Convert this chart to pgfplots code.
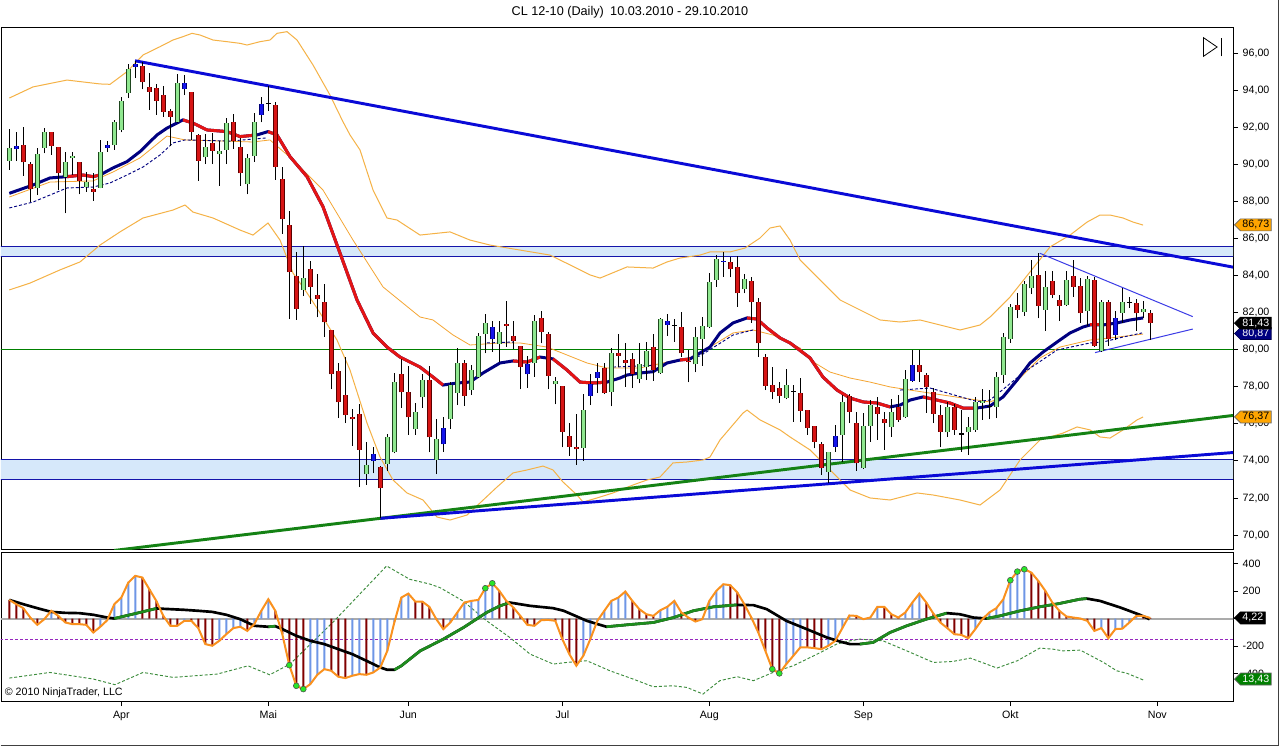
\documentclass[border=0pt]{standalone}
\usepackage{fontspec}
\setmainfont{Liberation Sans}
\usepackage{pgfplots}
\pgfplotsset{compat=1.18}
\usepackage{pgfplotstable}
\usetikzlibrary{shapes.symbols}

\definecolor{gfill}{RGB}{144,232,144}
\definecolor{gdark}{RGB}{30,70,30}
\definecolor{rfill}{RGB}{215,20,20}
\definecolor{rdark}{RGB}{90,0,0}
\definecolor{bfill}{RGB}{20,20,235}
\definecolor{bdark}{RGB}{0,0,120}
\definecolor{bandc}{RGB}{245,178,70}
\definecolor{midc}{RGB}{245,165,50}
\definecolor{navyc}{RGB}{0,0,128}
\definecolor{redma}{RGB}{228,20,20}
\definecolor{zonef}{RGB}{214,232,250}
\definecolor{zoneb}{RGB}{20,20,170}
\definecolor{trendb}{RGB}{10,10,215}
\definecolor{trendg}{RGB}{20,130,20}
\definecolor{hgreen}{RGB}{0,128,0}
\definecolor{tri}{RGB}{60,60,230}
\definecolor{tagor}{RGB}{255,165,0}
\definecolor{histb}{RGB}{110,150,230}
\definecolor{histr}{RGB}{128,0,0}
\definecolor{oscor}{RGB}{250,145,30}
\definecolor{sigg}{RGB}{30,140,30}
\definecolor{dotg}{RGB}{60,140,60}
\definecolor{purp}{RGB}{150,40,190}
\definecolor{dotfill}{RGB}{40,230,40}

% ---------- candles: index, open, high, low, close ----------
\pgfplotstableread{
i o h l c
0 90.19 91.90 89.69 90.89
4 88.70 90.89 88.34 90.54
5 90.89 91.94 90.59 91.76
8 89.33 90.68 87.35 90.10
9 90.32 90.68 89.42 90.44
11 88.76 89.60 88.52 89.03
13 88.73 91.31 88.70 90.68
15 91.04 92.39 90.77 92.26
16 91.85 93.64 91.72 93.41
17 93.83 95.39 93.56 95.14
24 92.29 94.87 92.25 94.37
28 90.37 91.61 90.01 90.93
30 90.54 91.25 88.84 90.73
31 90.77 92.51 90.00 92.21
34 88.92 90.54 88.38 90.32
35 90.44 92.75 90.14 92.26
42 83.22 85.59 82.89 83.85
51 73.28 75.00 72.70 73.78
54 73.82 75.45 73.47 75.27
55 74.46 78.72 74.41 78.27
58 75.70 77.14 75.40 76.64
59 77.43 78.69 76.87 78.36
61 74.05 76.24 73.29 75.16
63 76.24 78.24 75.72 78.09
64 77.65 80.07 77.01 79.26
66 77.82 79.17 77.55 78.90
67 78.51 80.88 78.45 80.74
68 80.84 81.92 79.80 81.42
70 80.30 81.56 79.32 80.94
75 79.26 81.87 78.54 81.54
78 78.13 78.54 77.05 78.31
82 74.71 77.59 74.01 76.74
86 77.73 80.07 76.94 79.80
90 78.40 80.37 78.18 79.21
91 79.08 80.43 78.36 79.94
93 78.72 81.72 78.69 81.65
98 79.21 81.21 78.78 80.67
99 80.57 81.78 79.13 81.28
100 81.24 84.12 81.15 83.66
101 83.76 85.10 83.40 84.87
105 83.25 84.08 83.04 83.79
111 77.38 78.96 77.32 78.09
117 73.42 74.46 72.79 74.46
119 75.40 77.55 73.96 77.16
122 73.63 76.57 73.55 75.88
123 75.88 77.28 75.03 77.01
126 75.84 77.32 75.30 76.65
128 76.35 78.90 76.30 78.40
134 75.54 77.19 75.30 76.89
137 75.54 76.35 74.32 75.84
138 75.67 77.43 75.57 77.19
139 77.14 77.86 76.21 77.23
141 76.92 78.81 76.30 78.54
142 78.63 80.88 78.22 80.67
143 80.56 82.46 80.37 82.28
145 82.05 83.70 81.83 83.52
146 83.31 84.84 82.99 83.97
148 82.14 84.26 81.01 83.36
151 82.41 84.26 82.35 83.76
154 82.08 83.99 81.28 83.81
156 79.94 82.68 79.89 82.55
159 81.99 83.31 81.45 82.55
162 82.01 82.64 81.69 82.19
}\tbUp

\pgfplotstableread{
i o h l c
2 91.04 92.02 89.38 90.10
3 90.00 90.14 87.98 88.65
6 91.72 91.72 90.50 91.00
7 90.95 90.95 88.61 89.51
10 90.10 90.14 88.38 89.11
12 88.65 89.51 88.03 88.52
19 95.30 95.53 94.04 94.42
20 94.15 94.91 92.93 93.91
21 94.13 94.31 92.66 93.43
22 93.72 94.24 92.56 92.83
23 92.87 92.98 91.00 92.56
26 93.88 93.91 91.31 91.76
27 91.58 91.61 89.11 90.19
29 91.13 91.70 90.01 90.73
32 92.29 92.69 90.82 91.27
33 90.95 91.43 88.83 89.51
38 93.20 93.34 89.15 89.84
39 89.20 89.84 86.24 87.03
40 86.72 87.48 81.64 84.17
41 83.99 85.25 81.60 82.18
43 84.35 84.78 82.45 83.40
44 82.93 84.06 81.74 82.72
45 82.55 83.52 80.70 81.47
46 81.06 81.06 77.86 78.67
47 78.85 79.30 76.30 77.16
48 77.55 79.62 76.03 76.47
49 76.35 76.80 74.82 76.24
50 76.53 77.07 72.58 74.59
53 73.69 73.74 70.90 72.52
56 78.67 79.50 76.87 77.70
57 77.70 79.12 75.40 76.35
60 78.36 79.12 74.46 75.27
65 79.26 79.44 76.98 77.52
71 81.38 82.62 80.16 81.29
72 80.75 81.56 80.03 80.48
73 80.20 80.20 77.86 79.05
76 81.69 82.08 80.34 80.94
77 80.84 80.97 77.86 78.59
79 78.04 78.04 74.73 75.57
80 75.34 76.03 74.28 74.77
81 74.75 76.53 73.78 74.62
85 78.99 79.30 77.60 77.65
87 79.80 80.83 79.05 79.66
88 79.44 80.37 78.00 79.30
89 79.50 79.80 77.92 78.67
92 80.16 80.84 78.33 78.90
96 81.24 82.01 79.62 79.80
97 79.39 79.98 78.24 79.32
103 84.74 85.01 83.90 84.33
104 84.44 85.05 82.32 83.04
106 83.72 83.93 81.45 82.55
107 82.55 82.77 79.59 80.34
108 79.62 79.77 77.82 78.06
109 78.09 79.05 77.32 77.70
110 77.92 78.27 77.14 77.52
113 77.65 78.45 76.11 76.71
114 76.74 76.74 75.40 75.76
115 75.88 75.88 74.68 75.03
116 74.91 75.03 73.24 73.60
120 77.50 77.59 76.03 76.65
121 76.03 76.65 73.47 73.87
124 76.89 77.46 75.13 76.53
125 76.24 76.65 74.59 76.03
127 76.92 77.55 76.11 76.21
130 79.17 79.98 78.27 78.78
131 78.63 78.72 76.60 77.97
132 77.73 77.92 76.03 76.53
133 76.47 77.01 74.73 75.57
135 76.89 77.07 75.40 75.67
144 82.39 83.07 81.69 82.14
147 84.01 85.20 81.69 82.37
149 83.69 84.26 82.77 82.95
150 82.68 82.96 81.56 82.37
152 83.97 84.84 82.86 83.40
153 83.45 83.85 81.45 81.96
155 83.76 83.93 80.16 80.20
157 82.55 82.68 80.20 80.56
161 82.50 82.72 81.02 81.96
163 81.96 82.14 80.52 81.43
}\tbDn

\pgfplotstableread{
i o h l c
1 90.81 91.74 90.17 90.98
14 90.89 91.27 90.68 91.04
18 95.26 95.58 94.64 95.39
25 94.04 94.81 93.73 94.40
36 92.66 93.61 92.26 93.25
52 73.99 74.77 73.33 74.35
62 74.89 76.35 74.50 75.76
69 80.56 81.56 79.89 81.21
74 78.67 79.66 77.95 79.23
83 77.52 78.69 77.01 78.15
84 78.49 79.30 77.68 78.81
94 81.33 81.91 80.74 81.56
102 84.74 85.28 83.93 84.80
118 74.77 75.94 74.50 75.34
129 78.33 79.98 78.27 79.17
158 80.79 82.08 80.52 81.72
}\tbBl

\pgfplotstableread{
i o h l c
37 93.27 94.22 92.89 93.27
95 81.30 81.65 80.43 81.30
112 77.75 78.09 76.11 77.75
136 75.45 76.74 74.50 75.45
140 76.92 77.82 76.24 76.92
160 82.53 82.86 82.25 82.53
}\tbDj

% ---------- moving average (thick) ----------
\pgfplotstableread{
i p
0 88.43
3.39 88.88
5.81 89.26
8.24 89.33
10.53 89.42
11.96 89.33
12.96 89.42
14.81 89.80
16.81 90.14
18.67 90.68
21.1 91.58
22.53 91.95
24.81 92.39
26.24 92.22
28.24 91.85
31.1 91.76
32.96 91.49
35.39 91.58
36.96 91.76
38.24 91.58
40.1 90.41
42.53 89.33
44.81 87.71
47.24 85.21
49.67 82.68
51.96 80.90
53.96 80.14
55.81 79.60
58.67 79.06
60.53 78.52
61.96 78.09
63.96 78.20
65.81 78.25
67.67 78.74
70.1 79.28
71.96 79.39
73.96 79.33
75.81 79.60
77.67 79.50
79.67 78.90
81.53 78.25
83.39 78.20
85.39 78.25
87.24 78.47
88.24 78.63
90.1 78.74
91.96 78.81
93.96 79.28
95.81 79.44
97.24 79.50
98.67 79.82
100.1 80.14
101.53 80.90
103.39 81.44
105.39 81.71
106.81 81.65
108.24 81.17
110.1 80.63
111.53 80.36
114.39 79.55
116.24 78.52
118.24 77.82
120.1 77.39
121.96 77.18
123.96 77.12
125.81 76.91
127.24 77.01
128.67 77.28
130.53 77.45
132.53 77.28
134.39 77.12
136.24 76.85
138.24 76.85
140.1 76.96
141.96 77.45
143.96 78.36
145.81 79.28
147.67 79.87
149.67 80.41
151.53 80.90
153.39 81.22
154.39 81.33
156.24 81.33
158.24 81.44
160.1 81.60
161.96 81.71
}\tbMA

% ---------- bands ----------
\pgfplotstableread{
i p
0 93.57
3.39 94.17
8.24 94.54
12.96 94.33
14.39 94.31
16.81 94.99
19.1 95.89
21.53 96.34
23.39 96.70
24.81 96.88
26.1 97.06
27.24 96.97
29.1 96.70
31.1 96.61
32.96 96.52
33.96 96.43
35.81 96.61
37.24 96.70
38.24 97.06
39.67 97.15
41.1 96.70
43.39 95.35
45.81 93.73
47.67 92.29
48.67 91.58
50.1 90.77
51.96 88.61
53.96 87.10
55.39 86.99
58.67 86.18
62.96 86.35
65.81 85.91
68.67 85.64
72.96 85.37
77.24 85.10
80.1 84.57
82.96 84.03
84.39 83.86
88.24 84.46
91.96 84.40
93.96 84.73
95.81 84.94
98.67 85.10
100.1 85.27
102.96 85.27
105.1 85.48
107.24 86.02
108.67 86.56
110.1 86.67
111.53 85.91
112.96 84.84
115.81 83.76
118.67 82.68
121.53 82.14
124.39 81.60
127.24 81.49
130.1 81.60
132.96 81.33
135.81 81.06
138.67 81.33
140.1 81.76
142.96 82.84
145.81 84.19
148.67 85.54
151.53 86.18
153.96 86.88
155.81 87.26
157.24 87.26
159.1 87.10
160.53 86.88
161.96 86.72
}\tbUB

\pgfplotstableread{
i p
0 83.22
2.96 83.59
7.24 84.30
10.1 84.73
12.96 85.64
15.81 86.35
19.1 87.10
23.39 87.53
25.1 87.80
26.24 87.42
29.1 87.10
32.96 86.45
34.81 86.18
36.96 86.83
38.67 85.91
40.53 84.13
42.53 83.06
44.39 81.98
46.81 80.52
48.67 78.90
51.1 76.04
52.96 74.21
54.81 72.97
56.81 72.27
59.1 71.89
61.1 70.97
62.96 70.81
65.39 71.08
67.24 71.73
69.67 72.59
71.96 73.35
73.96 73.51
76.24 73.72
77.67 73.51
79.1 72.86
81.1 72.16
81.96 71.78
83.96 72.00
86.24 72.27
89.1 72.70
91.1 72.97
92.96 73.13
94.81 73.89
96.81 73.94
99.1 74.05
100.1 74.21
101.53 75.13
104.81 76.58
105.39 76.74
107.24 76.21
110.1 75.67
111.53 75.29
114.39 74.59
117.67 73.35
120.1 72.43
122.96 72.00
125.81 71.89
129.67 72.27
131.96 72.16
135.81 71.89
138.67 71.62
141.53 72.43
144.39 74.05
147.24 75.13
150.53 75.50
152.53 75.83
154.39 75.67
155.81 75.29
157.24 75.23
159.1 75.67
161.1 76.21
161.96 76.37
}\tbLB

\pgfplotstableread{
i p
0 88.23
5.81 89.04
11.96 89.10
14.81 89.58
18.67 90.34
22.53 91.52
25.1 91.31
34.81 91.20
37.24 91.31
40.53 90.23
44.81 88.61
49.1 85.91
53.39 83.38
58.67 81.76
60.53 81.60
63.39 80.79
65.81 80.25
70.1 80.36
72.96 80.36
76.81 80.14
79.67 79.71
82.53 79.28
85.39 79.01
90.1 79.01
93.96 79.33
97.24 79.55
100.1 80.14
103.39 80.90
106.24 81.06
109.1 80.79
112.96 80.09
114.39 79.44
117.24 78.79
120.1 78.47
122.96 78.25
125.81 77.99
128.67 77.82
133.39 77.55
136.24 77.39
140.1 77.18
141.96 77.45
144.39 78.47
147.24 79.55
150.1 80.14
154.39 80.52
157.24 80.63
161.96 80.84
}\tbMid

% ---------- oscillator: index, value, rising value, falling value ----------
\pgfplotstableread{
i v b m
0 135 nan 135
1 104 nan 104
2 75 nan 75
3 7 nan 7
4 -46 nan -46
5 -5 -5 nan
6 56 56 nan
7 19 nan 19
8 -29 nan -29
9 -41 nan -41
10 -41 nan -41
11 -46 nan -46
12 -102 nan -102
13 -60 -60 nan
14 -12 -12 nan
15 104 104 nan
16 152 152 nan
17 261 261 nan
18 310 310 nan
19 298 nan 298
20 213 nan 213
21 128 nan 128
22 19 nan 19
23 -53 nan -53
24 -53 nan -53
25 -17 -17 nan
26 -17 nan -17
27 -70 nan -70
28 -186 nan -186
29 -198 nan -198
30 -162 -162 nan
31 -114 -114 nan
32 -70 -70 nan
33 -60 -60 nan
34 -90 nan -90
35 -41 -41 nan
36 56 56 nan
37 140 140 nan
38 56 nan 56
39 -114 nan -114
40 -339 nan -339
41 -489 nan -489
42 -513 nan -513
43 -477 -477 nan
44 -409 -409 nan
45 -368 -368 nan
46 -380 nan -380
47 -423 nan -423
48 -433 nan -433
49 -416 -416 nan
50 -404 -404 nan
51 -409 nan -409
52 -392 -392 nan
53 -356 -356 nan
54 -235 -235 nan
55 -29 -29 nan
56 152 152 nan
57 181 181 nan
58 123 nan 123
59 123 nan 123
60 85 nan 85
61 -5 nan -5
62 -77 nan -77
63 -29 -29 nan
64 44 44 nan
65 116 116 nan
66 128 128 nan
67 135 135 nan
68 220 220 nan
69 256 256 nan
70 201 nan 201
71 128 nan 128
72 80 nan 80
73 19 nan 19
74 -46 nan -46
75 -53 nan -53
76 -12 -12 nan
77 -10 -10 nan
78 -17 nan -17
79 -150 nan -150
80 -259 nan -259
81 -343 nan -343
82 -271 -271 nan
83 -150 -150 nan
84 -17 -17 nan
85 56 56 nan
86 128 128 nan
87 152 152 nan
88 196 196 nan
89 128 nan 128
90 68 nan 68
91 31 nan 31
92 19 nan 19
93 60 60 nan
94 85 85 nan
95 128 128 nan
96 44 nan 44
97 7 nan 7
98 -22 nan -22
99 -5 -5 nan
100 128 128 nan
101 201 201 nan
102 249 249 nan
103 242 nan 242
104 189 nan 189
105 104 nan 104
106 7 nan 7
107 -102 nan -102
108 -235 nan -235
109 -368 nan -368
110 -399 nan -399
111 -331 -331 nan
112 -271 -271 nan
113 -210 -210 nan
114 -210 nan -210
115 -215 nan -215
116 -223 nan -223
117 -198 -198 nan
118 -162 -162 nan
119 -70 -70 nan
120 22 22 nan
121 19 nan 19
122 -5 nan -5
123 7 7 nan
124 85 85 nan
125 85 nan 85
126 31 nan 31
127 7 nan 7
128 44 44 nan
129 116 116 nan
130 181 181 nan
131 116 nan 116
132 36 nan 36
133 -29 nan -29
134 -70 nan -70
135 -114 nan -114
136 -119 nan -119
137 -143 nan -143
138 -77 -77 nan
139 -5 -5 nan
140 44 44 nan
141 75 75 nan
142 140 140 nan
143 278 278 nan
144 341 341 nan
145 358 358 nan
146 334 nan 334
147 273 nan 273
148 201 nan 201
149 116 nan 116
150 56 nan 56
151 15 nan 15
152 7 nan 7
153 0 nan 0
154 -17 nan -17
155 -90 nan -90
156 -70 -70 nan
157 -143 nan -143
158 -77 -77 nan
159 -74 -74 nan
160 -29 -29 nan
161 19 19 nan
162 19 nan 19
163 4 nan 4
}\tbOsc

\pgfplotstableread{
i v
0 135
2 104
4 75
6 48
8 41
10 39
12 27
14 7
15 0
17 24
19 48
21 73
23 68
25 63
27 56
29 48
31 27
33 -5
35 -53
37 -60
38 -56
39 -77
41 -126
43 -162
45 -186
47 -223
49 -259
51 -307
53 -356
54 -373
55 -373
56 -344
58.7 -235
62 -150
64.9 -65
68.2 44
70.1 92
71.5 116
74.4 92
77.7 75
79.2 56
82.5 -17
85.3 -60
88.2 -46
92 -29
94.9 7
97.7 56
100.6 85
103.9 99
106.3 97
108.2 68
111 -17
113.9 -77
116.8 -138
118.7 -168
120.1 -186
121.5 -186
123.4 -174
125.8 -102
128.2 -53
131 -5
133.9 39
135.8 31
137.7 7
139.6 0
141.5 19
144.4 56
147.2 85
150 109
152.9 140
153.9 145
155.8 128
158.7 80
161.5 27
162.9 -5
}\tbSig

\pgfplotstableread{
i v
0 -433
5.8 -392
12 -440
15.1 -481
19.1 -392
23.4 -428
29.7 -404
34.1 -344
37.2 -409
40.1 -331
46.2 -29
53.9 382
57.2 285
60.1 250
61.5 225
64.8 128
68.2 -17
71.5 -138
74.4 -259
77.7 -331
79.7 -319
82.5 -307
85.8 -380
89.1 -440
92 -496
94.8 -489
96.8 -501
99.1 -549
101.5 -452
104 -423
106.3 -452
109.1 -392
112 -343
115.4 -259
118.2 -186
120.1 -162
121.5 -150
124.8 -162
128.2 -235
132 -319
134.8 -312
137.3 -288
141.1 -360
144 -307
147.2 -215
149.1 -223
150.5 -235
153 -230
156.3 -319
158.2 -380
159.7 -399
162 -447
}\tbDot

\pgfplotstableread{
i v
40 -339
41 -489
42 -513
68 220
69 256
109 -368
110 -399
143 278
144 341
145 358
}\tbPts

\pgfplotsset{
  wick/.style={mark=none, draw=none, forget plot,
    error bars/.cd, y dir=plus, y explicit, error mark=none,
    error bar style={draw=black, line width=0.75pt, solid}},
  body/.style 2 args={mark=none, draw=none, forget plot,
    error bars/.cd, y dir=plus, y explicit, error mark=none,
    error bar style={draw=#1, line width=#2, solid}},
}
\tikzset{tagbox/.style={signal, signal to=west, anchor=west,
  font=\fontsize{8}{9.6}\selectfont, inner xsep=1.5pt, inner ysep=0pt,
  minimum height=9pt, line width=0.5pt}}

\begin{document}
\begin{tikzpicture}
\path[use as bounding box] (0pt,0pt) rectangle (960pt,560.25pt);
\fill[white] (0pt,0pt) rectangle (960pt,560.25pt);

\begin{axis}[
  at={(0.75pt,148.5pt)}, anchor=south west, scale only axis,
  width=924pt, height=391.5pt,
  xmin=-1.186, xmax=174.81, ymin=69.247, ymax=97.402,
  axis line style={black, line width=0.6pt},
  xtick=\empty,
  ytick={70,72,...,96},
  yticklabels={{70,00},{72,00},{74,00},{76,00},{78,00},{80,00},{82,00},{84,00},{86,00},{88,00},{90,00},{92,00},{94,00},{96,00}},
  ytick pos=right, yticklabel pos=right,
  tick align=outside, major tick length=3.75pt,
  tick style={black, line width=0.6pt},
  tick label style={font=\fontsize{8}{9.6}\selectfont},
]
% zones
\addplot[fill=zonef, draw=none, forget plot] coordinates {(-2,73.02) (176,73.02) (176,74.05) (-2,74.05)} -- cycle;
\addplot[fill=zonef, draw=none, forget plot] coordinates {(-2,85.00) (176,85.00) (176,85.54) (-2,85.54)} -- cycle;
\addplot[zoneb, line width=0.75pt] coordinates {(-2,73.02) (176,73.02)};
\addplot[zoneb, line width=0.75pt] coordinates {(-2,74.05) (176,74.05)};
\addplot[zoneb, line width=0.75pt] coordinates {(-2,85.00) (176,85.00)};
\addplot[zoneb, line width=0.75pt] coordinates {(-2,85.54) (176,85.54)};
\addplot[hgreen, line width=0.75pt] coordinates {(-2,80) (176,80)};
% bands
\addplot[bandc, line width=0.75pt] table[x=i,y=p] {\tbUB};
\addplot[bandc, line width=0.75pt] table[x=i,y=p] {\tbLB};
\addplot[midc, line width=0.6pt] table[x=i,y=p] {\tbMid};
% trend lines
\addplot[trendg, line width=2.2pt] coordinates {(15,69.17) (174.81,76.45)};
\addplot[trendb, line width=2.2pt] coordinates {(53,70.90) (174.81,74.45)};
\addplot[trendb, line width=2.2pt] coordinates {(17.96,95.58) (174.81,84.45)};
\addplot[tri, line width=0.75pt] coordinates {(147.2,85.20) (169.06,81.78)};
\addplot[tri, line width=0.75pt] coordinates {(155.1,79.84) (169.06,81.11)};
% dashed navy average
\addplot[navyc, line width=0.7pt, dash pattern=on 2.25pt off 1.5pt] coordinates {(0,87.64) (3.39,87.96) (8.24,88.72) (11.96,88.77) (14.39,88.99) (16.81,89.42) (19.1,89.85) (21.53,90.50) (23.39,91.15) (25.1,91.31) (31.53,91.25) (36.81,91.42)};
\addplot[navyc, line width=0.7pt, dash pattern=on 2.25pt off 1.5pt] coordinates {(68.24,80.36) (71.96,80.41)};
\addplot[navyc, line width=0.7pt, dash pattern=on 2.25pt off 1.5pt] coordinates {(86.24,79.06) (92.96,79.17) (98.67,79.66) (103.39,80.79) (106.24,81.06)};
\addplot[navyc, line width=0.7pt, dash pattern=on 2.25pt off 1.5pt] coordinates {(127.24,77.82) (131.53,77.93) (138.24,77.2) (140.1,77.28) (144.81,78.74) (149.67,79.98) (154.39,80.36) (156.24,80.41) (159.1,80.68) (161.81,80.90)};
% thick average, navy rising, red falling
\addplot[navyc, line width=2.25pt] table[x=i,y=p] {\tbMA};
\addplot[redma, line width=2.25pt, restrict x to domain=8.24:12.96] table[x=i,y=p] {\tbMA};
\addplot[redma, line width=2.25pt, restrict x to domain=24.81:35.39] table[x=i,y=p] {\tbMA};
\addplot[redma, line width=2.25pt, restrict x to domain=36.96:61.96] table[x=i,y=p] {\tbMA};
\addplot[redma, line width=2.25pt, restrict x to domain=71.96:75.81] table[x=i,y=p] {\tbMA};
\addplot[redma, line width=2.25pt, restrict x to domain=77.67:85.39] table[x=i,y=p] {\tbMA};
\addplot[redma, line width=2.25pt, restrict x to domain=95.81:97.24] table[x=i,y=p] {\tbMA};
\addplot[redma, line width=2.25pt, restrict x to domain=105.39:125.81] table[x=i,y=p] {\tbMA};
\addplot[redma, line width=2.25pt, restrict x to domain=130.53:138.24] table[x=i,y=p] {\tbMA};
\addplot[redma, line width=2.25pt, restrict x to domain=154.39:156.24] table[x=i,y=p] {\tbMA};
% candles: wicks
\addplot[wick] table[x=i, y=l, y error plus expr=\thisrow{h}-\thisrow{l}] {\tbUp};
\addplot[wick] table[x=i, y=l, y error plus expr=\thisrow{h}-\thisrow{l}] {\tbDn};
\addplot[wick] table[x=i, y=l, y error plus expr=\thisrow{h}-\thisrow{l}] {\tbBl};
\addplot[wick] table[x=i, y=l, y error plus expr=\thisrow{h}-\thisrow{l}] {\tbDj};
% candles: bodies
\addplot[body={gdark}{3.75pt}] table[x=i, y=o, y error plus expr=\thisrow{c}-\thisrow{o}] {\tbUp};
\addplot[body={gfill}{2.3pt}] table[x=i, y=o, y error plus expr=\thisrow{c}-\thisrow{o}] {\tbUp};
\addplot[body={rdark}{3.75pt}] table[x=i, y=c, y error plus expr=\thisrow{o}-\thisrow{c}] {\tbDn};
\addplot[body={rfill}{2.3pt}] table[x=i, y=c, y error plus expr=\thisrow{o}-\thisrow{c}] {\tbDn};
\addplot[body={bdark}{3.75pt}] table[x=i, y=o, y error plus expr=\thisrow{c}-\thisrow{o}] {\tbBl};
\addplot[body={bfill}{2.3pt}] table[x=i, y=o, y error plus expr=\thisrow{c}-\thisrow{o}] {\tbBl};
\addplot[only marks, mark=-, mark size=2pt, mark options={black, line width=1pt}, forget plot] table[x=i, y=o] {\tbDj};
\coordinate (tUB) at (axis cs:174.81,86.73);
\coordinate (tLB) at (axis cs:174.81,76.37);
\coordinate (tC) at (axis cs:174.81,81.43);
\coordinate (tND) at (axis cs:174.81,80.87);
\end{axis}

\begin{axis}[
  at={(0.75pt,34.5pt)}, anchor=south west, scale only axis,
  width=924pt, height=111.75pt,
  xmin=-1.186, xmax=174.81, ymin=-599.6, ymax=483.3,
  axis line style={black, line width=0.6pt},
  xtick={16,37,57,79,100,122,143,164},
  xticklabels={Apr,Mai,Jun,Jul,Aug,Sep,Okt,Nov},
  xtick pos=bottom,
  ytick={-400,-200,0,200,400},
  yticklabels={-400,-200,{},200,400},
  ytick pos=right, yticklabel pos=right,
  tick align=outside, major tick length=3.75pt,
  tick style={black, line width=0.6pt},
  tick label style={font=\fontsize{8}{9.6}\selectfont},
]
\addplot[black!33, line width=1.5pt] coordinates {(-2,0) (176,0)};
\addplot[purp, line width=0.75pt, dash pattern=on 2.25pt off 1.5pt] coordinates {(-2,-150) (176,-150)};
\addplot[dotg, line width=0.7pt, dash pattern=on 2.25pt off 1.5pt] table[x=i,y=v] {\tbDot};
\addplot[ybar, bar width=1.5pt, bar shift=0pt, fill=histb, draw=none] table[x=i,y=b] {\tbOsc};
\addplot[ybar, bar width=1.5pt, bar shift=0pt, fill=histr, draw=none] table[x=i,y=m] {\tbOsc};
\addplot[black, line width=2pt] table[x=i,y=v] {\tbSig};
\addplot[sigg, line width=2pt, restrict x to domain=15:21] table[x=i,y=v] {\tbSig};
\addplot[sigg, line width=2pt, restrict x to domain=37:38] table[x=i,y=v] {\tbSig};
\addplot[sigg, line width=2pt, restrict x to domain=55:71.5] table[x=i,y=v] {\tbSig};
\addplot[sigg, line width=2pt, restrict x to domain=85.3:103.9] table[x=i,y=v] {\tbSig};
\addplot[sigg, line width=2pt, restrict x to domain=121.5:133.9] table[x=i,y=v] {\tbSig};
\addplot[sigg, line width=2pt, restrict x to domain=139.6:153.9] table[x=i,y=v] {\tbSig};
\addplot[oscor, line width=1.5pt] table[x=i,y=v] {\tbOsc};
\addplot[only marks, mark=*, mark size=2.2pt, mark options={fill=dotfill, draw=black!70, line width=0.4pt}] table[x=i,y=v] {\tbPts};
\coordinate (tOsc) at (axis cs:174.81,4.22);
\coordinate (tDot) at (axis cs:174.81,-440);
\end{axis}

% value tags
\node[tagbox, fill=tagor, draw=black!60, text=black] at ([xshift=0.75pt]tUB) {86,73};
\node[tagbox, fill=tagor, draw=black!60, text=black] at ([xshift=0.75pt]tLB) {76,37};
\node[tagbox, fill=navyc, draw=navyc!60!black, text=white] at ([xshift=0.75pt]tND) {80,87};
\node[tagbox, fill=black, draw=black, text=white] at ([xshift=0.75pt]tC) {81,43};
\node[tagbox, fill=black, draw=black, text=white] at ([xshift=0.75pt]tOsc) {4,22};
\node[tagbox, fill=hgreen, draw=black!60, text=white] at ([xshift=0.75pt]tDot) {13,43};

% title, copyright, icon, frame
\node[font=\fontsize{9.5}{11}\selectfont] at (472.5pt,551.25pt) {CL 12-10 (Daily)\enspace 10.03.2010 - 29.10.2010};
\node[anchor=west, font=\fontsize{8}{9.6}\selectfont, inner sep=0pt] at (3.5pt,40.5pt) {© 2010 NinjaTrader, LLC};
\draw[black, line width=0.6pt, line join=miter] (902.6pt,518pt) -- (902.6pt,532pt) -- (912.8pt,525pt) -- cycle;
\draw[black, line width=0.8pt] (915.8pt,518pt) -- (915.8pt,532pt);
\draw[black!75, line width=0.75pt] (0.4pt,0.9pt) -- (958.6pt,0.9pt) -- (958.6pt,559.9pt);
\end{tikzpicture}
\end{document}
